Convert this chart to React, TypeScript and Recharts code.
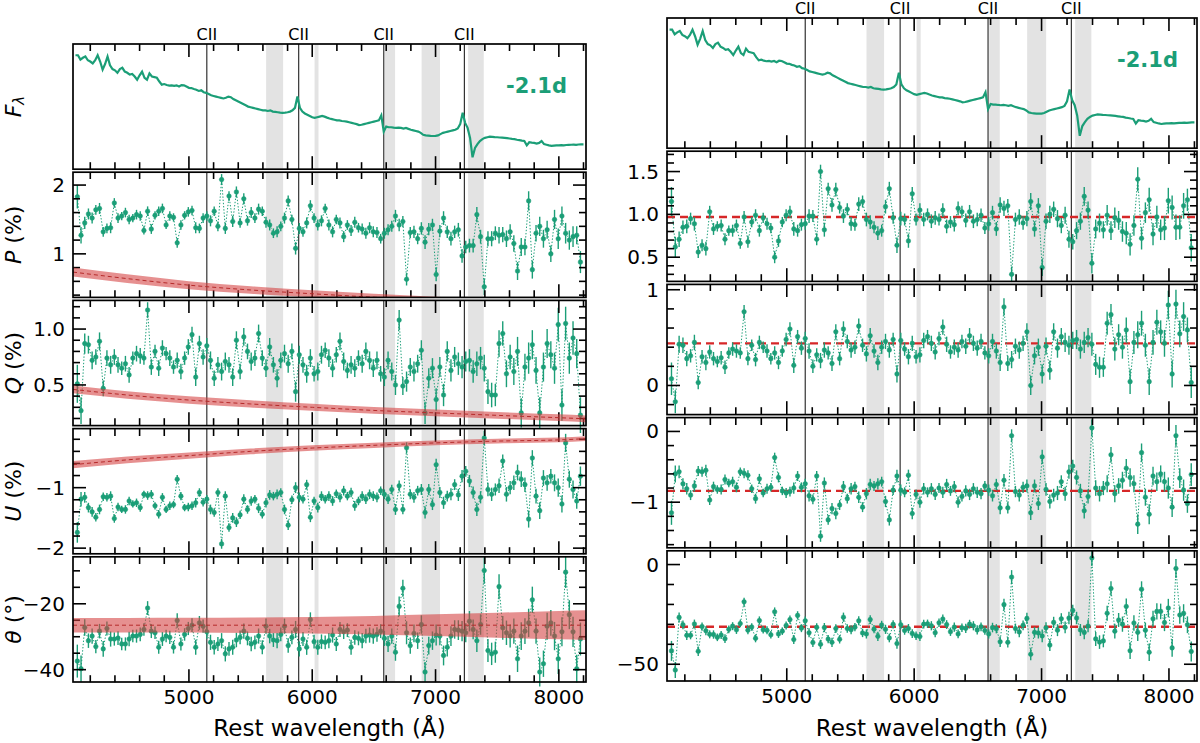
import React from "react";
import {
  ComposedChart,
  Line,
  Area,
  XAxis,
  YAxis,
  ReferenceLine,
  ReferenceArea,
  ErrorBar,
} from "recharts";

const GREEN = "#1b9e77";
const FONT = "'DejaVu Sans', sans-serif";

// ---- binned spectropolarimetry (30 A bins) ----
const BIN_START = 4095;
const BIN_WIDTH = 30;

// observed, not corrected for ISP
const pObs = [
  1.83, 1.27, 1.45, 1.58, 1.52, 1.64, 1.66, 1.32, 1.37, 1.38,
  1.74, 1.52, 1.55, 1.6, 1.5, 1.52, 1.57, 1.55, 1.34, 1.62,
  1.36, 1.56, 1.62, 1.66, 1.42, 1.55, 1.53, 1.16, 1.42, 1.56,
  1.61, 1.63, 1.38, 1.37, 1.52, 1.55, 1.48, 1.62, 1.4, 2.08,
  1.37, 1.84, 1.47, 1.9, 1.45, 1.8, 1.48, 1.6, 1.52, 1.65,
  1.62, 1.46, 1.42, 1.3, 1.32, 1.4, 1.52, 1.77, 1.5, 1.08,
  1.37, 1.32, 1.45, 1.7, 1.52, 1.42, 1.48, 1.66, 1.42, 1.32,
  1.5, 1.45, 1.25, 1.42, 1.34, 1.46, 1.38, 1.36, 1.3, 1.38,
  1.32, 1.31, 1.22, 1.3, 1.35, 1.4, 1.55, 1.42, 1.47, 0.63,
  1.31, 1.32, 1.22, 1.37, 1.17, 1.36, 1.42, 0.7, 1.33, 1.52,
  1.32, 1.22, 1.32, 1.35, 0.97, 1.1, 1.12, 1.12, 1.57, 1.25,
  0.52, 1.22, 1.22, 1.3, 1.27, 1.28, 1.22, 1.32, 1.15, 0.75,
  1.1, 1.1, 1.77, 0.77, 1.3, 1.4, 1.22, 1.35, 1.0, 1.5,
  1.22, 1.55, 1.3, 1.2, 1.25, 1.27, 0.88,
];
const qObs = [
  0.51, 0.27, 0.87, 0.86, 0.72, 0.75, 0.89, 0.47, 0.74, 0.68,
  0.75, 0.68, 0.65, 0.69, 0.59, 0.74, 0.78, 0.76, 0.74, 1.17,
  0.66, 0.8, 0.65, 0.83, 0.78, 0.74, 0.66, 0.72, 0.62, 0.74,
  0.84, 0.95, 0.57, 0.87, 0.75, 0.85, 0.72, 0.56, 0.68, 0.62,
  0.71, 0.68, 0.57, 0.9, 0.62, 0.93, 0.8, 0.71, 0.74, 0.96,
  0.74, 0.65, 0.84, 0.68, 0.56, 0.72, 0.78, 0.69, 0.8, 0.44,
  0.77, 0.68, 0.6, 0.74, 0.6, 0.62, 0.77, 0.81, 0.74, 0.65,
  0.77, 0.89, 0.71, 0.63, 0.68, 0.65, 0.74, 0.69, 0.8, 0.72,
  0.65, 0.72, 0.6, 0.57, 0.72, 0.62, 0.5, 1.08, 0.49, 0.53,
  0.66, 0.62, 0.69, 0.81, 0.25, 0.56, 0.65, 0.37, 0.66, 0.41,
  0.8, 0.63, 0.75, 0.69, 0.66, 0.71, 0.72, 0.62, 0.69, 0.74,
  0.65, 0.44, 0.41, 0.41, 0.87, 0.96, 0.6, 0.75, 0.62, 0.8,
  0.25, 0.66, 0.74, 0.86, 0.63, 0.25, 0.66, 0.87, 0.77, 0.65,
  1.04, 0.32, 1.05, 0.74, 0.92, 0.78, 0.23,
];
const uObs = [
  -1.74, -1.19, -1.16, -1.33, -1.4, -1.49, -1.36, -1.15, -1.16, -1.14,
  -1.51, -1.32, -1.36, -1.36, -1.22, -1.27, -1.25, -1.33, -1.11, -1.13,
  -1.11, -1.3, -1.44, -1.16, -1.36, -1.3, -1.28, -0.86, -1.14, -1.33,
  -1.32, -1.3, -1.25, -1.08, -1.24, -1.19, -1.36, -1.41, -1.08, -1.93,
  -1.14, -1.66, -1.5, -1.57, -1.45, -1.19, -1.36, -1.22, -1.19, -1.34,
  -1.44, -1.25, -1.12, -1.14, -1.11, -1.08, -1.36, -1.62, -1.2, -1.0,
  -1.16, -1.19, -0.95, -1.49, -1.22, -1.33, -1.14, -1.19, -1.14, -1.22,
  -1.1, -1.16, -1.05, -1.14, -1.08, -1.3, -1.22, -1.14, -1.19, -1.11,
  -1.14, -1.16, -1.05, -1.11, -1.19, -1.03, -1.36, -0.97, -1.36, -0.34,
  -1.11, -1.16, -1.05, -1.03, -1.41, -1.03, -1.28, -0.62, -1.08, -1.25,
  -1.14, -1.11, -0.95, -1.12, -0.81, -0.73, -0.89, -1.08, -1.36, -1.16,
  -0.18, -1.03, -1.11, -1.03, -0.97, -0.56, -1.11, -1.0, -0.92, -0.75,
  -0.86, -0.95, -1.52, -0.51, -1.14, -1.38, -0.84, -0.92, -0.81, -0.92,
  -1.0, -1.27, -0.26, -0.86, -1.03, -1.22, -0.81,
];
const thetaObs = [
  -37.4, -39.7, -27.2, -31.2, -29.8, -33.0, -28.3, -33.7, -27.5, -30.7,
  -30.7, -30.4, -32.2, -32.2, -30.7, -29.8, -29.8, -29.3, -27.8, -21.3,
  -28.3, -28.8, -33.2, -30.7, -29.8, -30.2, -33.2, -25.1, -32.2, -29.3,
  -27.5, -26.5, -33.2, -25.8, -26.8, -28.5, -31.7, -33.2, -32.2, -31.2,
  -35.2, -33.7, -33.2, -31.0, -30.2, -28.3, -30.5, -32.2, -31.7, -29.8,
  -33.2, -26.8, -29.8, -31.0, -31.2, -29.3, -26.8, -32.7, -30.2, -27.8,
  -33.7, -30.7, -33.2, -24.8, -31.5, -33.2, -31.5, -31.7, -31.2, -29.5,
  -32.2, -27.8, -28.5, -28.0, -33.2, -30.2, -30.5, -31.2, -29.8, -29.5,
  -29.8, -29.3, -28.3, -30.5, -32.2, -29.8, -34.7, -20.8, -15.3, -28.8,
  -32.7, -29.0, -31.2, -26.3, -40.7, -32.7, -31.2, -29.5, -29.8, -35.7,
  -33.2, -29.8, -27.8, -28.0, -28.3, -28.8, -25.3, -27.8, -31.2, -26.3,
  -9.9, -34.2, -35.2, -34.7, -14.8, -27.3, -28.8, -29.8, -28.3, -36.7,
  -29.8, -28.3, -25.8, -18.8, -28.3, -40.7, -38.2, -26.8, -25.8, -29.8,
  -36.7, -28.5, -10.4, -23.3, -28.5, -39.7, -30.7,
];

// ISP-subtracted
const pCor = [
  1.15, 0.62, 0.71, 0.85, 0.86, 0.95, 0.89, 0.56, 0.64, 0.6,
  1.03, 0.83, 0.86, 0.87, 0.71, 0.81, 0.81, 0.87, 0.66, 0.97,
  0.68, 0.91, 0.99, 0.81, 0.96, 0.89, 0.84, 0.5, 0.69, 0.91,
  0.99, 1.03, 0.83, 0.81, 0.88, 0.89, 0.98, 0.98, 0.71, 1.5,
  0.82, 1.3, 1.11, 1.29, 1.08, 0.98, 1.06, 0.89, 0.88, 1.12,
  1.15, 0.94, 0.91, 0.85, 0.78, 0.81, 1.09, 1.3, 0.96, 0.64,
  0.95, 0.94, 0.69, 1.24, 0.94, 1.05, 0.94, 1.0, 0.92, 0.96,
  0.94, 1.05, 0.86, 0.91, 0.88, 1.07, 1.03, 0.93, 1.03, 0.92,
  0.94, 0.99, 0.84, 0.89, 1.02, 0.83, 1.11, 1.07, 1.1, 0.3,
  0.94, 0.97, 0.9, 0.95, 1.15, 0.83, 1.1, 0.38, 0.92, 1.0,
  1.06, 0.95, 0.87, 0.99, 0.71, 0.68, 0.81, 0.92, 1.21, 1.05,
  0.43, 0.83, 0.9, 0.82, 0.99, 0.81, 0.96, 0.93, 0.8, 0.78,
  0.65, 0.87, 1.41, 0.72, 1.02, 1.17, 0.77, 0.97, 0.82, 0.84,
  1.16, 1.08, 0.85, 0.85, 1.1, 1.17, 0.61,
];
const qCor = [
  0.07, -0.17, 0.43, 0.42, 0.28, 0.31, 0.45, 0.03, 0.3, 0.24,
  0.35, 0.28, 0.25, 0.29, 0.19, 0.34, 0.38, 0.36, 0.34, 0.77,
  0.28, 0.42, 0.27, 0.45, 0.4, 0.36, 0.28, 0.34, 0.24, 0.36,
  0.48, 0.59, 0.21, 0.51, 0.39, 0.49, 0.36, 0.2, 0.32, 0.26,
  0.37, 0.34, 0.23, 0.56, 0.28, 0.59, 0.46, 0.37, 0.4, 0.62,
  0.42, 0.33, 0.52, 0.36, 0.24, 0.4, 0.46, 0.37, 0.48, 0.12,
  0.47, 0.38, 0.3, 0.44, 0.3, 0.32, 0.47, 0.51, 0.44, 0.35,
  0.49, 0.61, 0.43, 0.35, 0.4, 0.37, 0.46, 0.41, 0.52, 0.44,
  0.39, 0.46, 0.34, 0.31, 0.46, 0.36, 0.24, 0.82, 0.23, 0.27,
  0.41, 0.37, 0.44, 0.56, 0.0, 0.31, 0.4, 0.12, 0.41, 0.16,
  0.56, 0.39, 0.51, 0.45, 0.42, 0.47, 0.48, 0.38, 0.45, 0.5,
  0.43, 0.22, 0.19, 0.19, 0.65, 0.74, 0.38, 0.53, 0.4, 0.58,
  0.04, 0.45, 0.53, 0.65, 0.42, 0.04, 0.45, 0.66, 0.56, 0.44,
  0.84, 0.12, 0.85, 0.54, 0.72, 0.58, 0.03,
];
const uCor = [
  -1.15, -0.6, -0.57, -0.74, -0.81, -0.9, -0.77, -0.56, -0.57, -0.55,
  -0.97, -0.78, -0.82, -0.82, -0.68, -0.73, -0.71, -0.79, -0.57, -0.59,
  -0.62, -0.81, -0.95, -0.67, -0.87, -0.81, -0.79, -0.37, -0.65, -0.84,
  -0.87, -0.85, -0.8, -0.63, -0.79, -0.74, -0.91, -0.96, -0.63, -1.48,
  -0.73, -1.25, -1.09, -1.16, -1.04, -0.78, -0.95, -0.81, -0.78, -0.93,
  -1.07, -0.88, -0.75, -0.77, -0.74, -0.71, -0.99, -1.25, -0.83, -0.63,
  -0.83, -0.86, -0.62, -1.16, -0.89, -1.0, -0.81, -0.86, -0.81, -0.89,
  -0.8, -0.86, -0.75, -0.84, -0.78, -1.0, -0.92, -0.84, -0.89, -0.81,
  -0.86, -0.88, -0.77, -0.83, -0.91, -0.75, -1.08, -0.69, -1.08, -0.06,
  -0.85, -0.9, -0.79, -0.77, -1.15, -0.77, -1.02, -0.36, -0.82, -0.99,
  -0.9, -0.87, -0.71, -0.88, -0.57, -0.49, -0.65, -0.84, -1.12, -0.92,
  0.05, -0.8, -0.88, -0.8, -0.74, -0.33, -0.88, -0.77, -0.69, -0.52,
  -0.65, -0.74, -1.31, -0.3, -0.93, -1.17, -0.63, -0.71, -0.6, -0.71,
  -0.8, -1.07, -0.06, -0.66, -0.83, -1.02, -0.61,
];
const thetaCor = [
  -43.3, -52.9, -26.5, -30.2, -35.5, -35.5, -29.8, -43.5, -31.1, -33.2,
  -35.0, -35.1, -36.5, -35.3, -37.2, -32.5, -30.9, -32.7, -29.6, -18.7,
  -32.9, -31.3, -37.0, -28.1, -32.7, -33.0, -35.2, -23.7, -34.8, -33.4,
  -30.6, -27.6, -37.6, -25.5, -31.9, -28.2, -34.2, -39.1, -31.5, -40.0,
  -31.6, -37.4, -39.0, -32.1, -37.5, -26.4, -32.1, -32.7, -31.4, -28.2,
  -34.3, -34.8, -27.6, -32.4, -36.0, -30.3, -32.5, -36.8, -30.0, -39.6,
  -30.2, -33.1, -32.1, -34.6, -35.7, -36.1, -29.9, -29.7, -30.7, -34.2,
  -29.2, -27.3, -30.1, -33.7, -31.4, -34.8, -31.7, -32.0, -29.9, -30.7,
  -32.8, -31.2, -33.1, -34.8, -31.6, -32.2, -38.7, -20.1, -39.0, -6.3,
  -32.1, -33.8, -30.5, -27.0, -45.0, -34.0, -34.3, -35.8, -31.7, -40.4,
  -29.0, -32.9, -27.2, -31.5, -26.8, -23.0, -26.8, -32.8, -34.1, -30.8,
  3.3, -37.3, -38.9, -38.3, -24.4, -12.0, -33.4, -27.8, -29.9, -21.0,
  -43.2, -29.3, -34.0, -12.4, -32.9, -44.0, -27.2, -23.5, -23.5, -29.1,
  -21.8, -41.8, -2.0, -25.3, -24.5, -30.2, -43.6,
];

// 1-sigma uncertainties (percent, degrees)
const polErr = [
  0.17, 0.12, 0.09, 0.08, 0.08, 0.07, 0.08, 0.07, 0.07, 0.08,
  0.07, 0.07, 0.06, 0.07, 0.07, 0.06, 0.07, 0.07, 0.06, 0.07,
  0.07, 0.06, 0.07, 0.07, 0.06, 0.07, 0.06, 0.07, 0.07, 0.06,
  0.07, 0.07, 0.08, 0.07, 0.07, 0.07, 0.08, 0.07, 0.07, 0.08,
  0.08, 0.07, 0.08, 0.08, 0.07, 0.08, 0.07, 0.08, 0.07, 0.08,
  0.07, 0.08, 0.08, 0.07, 0.08, 0.07, 0.08, 0.08, 0.07, 0.09,
  0.08, 0.07, 0.08, 0.08, 0.07, 0.08, 0.08, 0.07, 0.08, 0.08,
  0.07, 0.08, 0.08, 0.07, 0.08, 0.08, 0.07, 0.08, 0.08, 0.08,
  0.08, 0.08, 0.07, 0.08, 0.08, 0.08, 0.09, 0.09, 0.08, 0.09,
  0.08, 0.09, 0.08, 0.09, 0.1, 0.09, 0.09, 0.1, 0.09, 0.1,
  0.09, 0.1, 0.09, 0.1, 0.1, 0.09, 0.1, 0.1, 0.11, 0.1,
  0.12, 0.11, 0.11, 0.1, 0.12, 0.11, 0.12, 0.11, 0.12, 0.13,
  0.13, 0.12, 0.14, 0.13, 0.12, 0.14, 0.13, 0.13, 0.12, 0.14,
  0.15, 0.14, 0.15, 0.14, 0.15, 0.13, 0.16,
];
const thetaErr = [
  5.0, 4.0, 2.5, 2.2, 2.3, 2.0, 2.2, 2.4, 2.1, 2.3,
  2.0, 2.1, 1.9, 2.0, 2.2, 1.9, 2.0, 2.1, 1.9, 2.1,
  2.1, 1.9, 2.0, 2.1, 1.9, 2.0, 1.9, 2.2, 2.0, 1.9,
  2.0, 2.1, 2.3, 2.1, 2.0, 2.1, 2.3, 2.2, 2.1, 2.3,
  2.3, 2.1, 2.3, 2.2, 2.1, 2.3, 2.1, 2.2, 2.1, 2.3,
  2.1, 2.3, 2.2, 2.1, 2.3, 2.1, 2.3, 2.2, 2.1, 2.6,
  2.3, 2.1, 2.3, 2.2, 2.1, 2.3, 2.2, 2.1, 2.3, 2.3,
  2.1, 2.3, 2.2, 2.1, 2.3, 2.2, 2.1, 2.3, 2.2, 2.3,
  2.3, 2.2, 2.1, 2.3, 2.4, 2.3, 2.6, 3.0, 2.6, 3.5,
  2.5, 2.7, 2.5, 2.8, 3.0, 2.7, 2.8, 3.2, 2.8, 3.0,
  2.8, 3.0, 2.8, 3.0, 3.1, 2.9, 3.1, 3.0, 3.4, 3.1,
  4.0, 3.5, 3.4, 3.2, 3.8, 3.6, 3.7, 3.5, 3.8, 4.0,
  4.2, 3.9, 4.3, 4.0, 3.8, 4.4, 4.0, 4.1, 3.9, 4.3,
  4.6, 4.4, 4.8, 4.4, 4.6, 4.2, 5.0,
];

const wavelengths = pObs.map((_, i) => BIN_START + BIN_WIDTH * i);

const polRows = wavelengths.map((wl, i) => ({
  wl,
  pObs: pObs[i],
  qObs: qObs[i],
  uObs: uObs[i],
  thObs: thetaObs[i],
  pCor: pCor[i],
  qCor: qCor[i],
  uCor: uCor[i],
  thCor: thetaCor[i],
  ePol: polErr[i],
  eTh: thetaErr[i],
}));

// ---- flux spectrum (arbitrary units, 20 A sampling) ----
const FLUX_START = 4080;
const FLUX_STEP = 20;
const flux = [
  0.91, 0.91, 0.875, 0.89, 0.9, 0.87, 0.86, 0.845, 0.87, 0.91,
  0.86, 0.795, 0.84, 0.9, 0.83, 0.8, 0.79, 0.77, 0.8, 0.81,
  0.78, 0.77, 0.755, 0.76, 0.74, 0.715, 0.75, 0.78, 0.73, 0.715,
  0.765, 0.74, 0.735, 0.73, 0.7, 0.675, 0.68, 0.672, 0.668, 0.67,
  0.665, 0.67, 0.66, 0.672, 0.67, 0.66, 0.65, 0.648, 0.64, 0.635,
  0.625, 0.63, 0.615, 0.61, 0.6, 0.59, 0.585, 0.58, 0.575, 0.57,
  0.565, 0.57, 0.58, 0.575, 0.56, 0.55, 0.54, 0.53, 0.52, 0.51,
  0.5, 0.495, 0.49, 0.485, 0.48, 0.475, 0.47, 0.47, 0.465, 0.47,
  0.46, 0.458, 0.455, 0.452, 0.45, 0.452, 0.455, 0.46, 0.47, 0.49,
  0.58, 0.49, 0.46, 0.445, 0.435, 0.425, 0.415, 0.41, 0.415, 0.42,
  0.425, 0.42, 0.412, 0.405, 0.4, 0.395, 0.39, 0.39, 0.385, 0.383,
  0.38, 0.375, 0.37, 0.365, 0.36, 0.352, 0.355, 0.36, 0.365, 0.37,
  0.375, 0.38, 0.385, 0.39, 0.43, 0.3, 0.34, 0.335, 0.335, 0.332,
  0.33, 0.332, 0.33, 0.325, 0.33, 0.322, 0.315, 0.31, 0.305, 0.3,
  0.29, 0.275, 0.27, 0.268, 0.266, 0.265, 0.266, 0.27, 0.28, 0.29,
  0.295, 0.3, 0.305, 0.31, 0.315, 0.325, 0.36, 0.45, 0.37, 0.33,
  0.25, 0.095, 0.17, 0.2, 0.225, 0.24, 0.25, 0.255, 0.26, 0.258,
  0.256, 0.255, 0.253, 0.252, 0.25, 0.248, 0.245, 0.242, 0.24, 0.235,
  0.232, 0.228, 0.225, 0.19, 0.215, 0.212, 0.21, 0.205, 0.21, 0.225,
  0.2, 0.195, 0.19, 0.186, 0.188, 0.19, 0.19, 0.192, 0.19, 0.193,
  0.194, 0.195, 0.196, 0.195, 0.197, 0.198, 0.198,
];
const fluxRows = flux.map((f, i) => ({ wl: FLUX_START + FLUX_STEP * i, flux: f }));

// ---- interstellar polarisation model (centre and half width of band) ----
const ispWl = [4060, 4500, 5000, 5500, 6000, 6500, 7000, 7500, 8000, 8220];
const ispP = [0.735, 0.64, 0.545, 0.475, 0.42, 0.37, 0.33, 0.3, 0.28, 0.27];
const ispPHalf = [0.065, 0.062, 0.058, 0.055, 0.052, 0.05, 0.048, 0.046, 0.045, 0.045];
const ispQ = [0.46, 0.41, 0.365, 0.33, 0.3, 0.272, 0.25, 0.228, 0.207, 0.197];
const ispQHalf = [0.035, 0.034, 0.033, 0.032, 0.031, 0.03, 0.03, 0.03, 0.03, 0.03];
const ispU = [-0.62, -0.54, -0.47, -0.4, -0.345, -0.3, -0.26, -0.23, -0.21, -0.19];
const ispUHalf = [0.06, 0.055, 0.05, 0.047, 0.045, 0.043, 0.04, 0.04, 0.04, 0.04];
const ispTheta = [-26.5, -26.5, -26.5, -26.5, -26.5, -26.5, -26.5, -26.5, -26.5, -26.5];
const ispThetaHalf = [2.2, 2.2, 2.25, 2.35, 2.5, 2.8, 3.3, 3.8, 4.3, 4.5];

const ispRows = ispWl.map((wl, i) => ({
  wl,
  p: ispP[i],
  pBand: [ispP[i] - ispPHalf[i], ispP[i] + ispPHalf[i]],
  q: ispQ[i],
  qBand: [ispQ[i] - ispQHalf[i], ispQ[i] + ispQHalf[i]],
  u: ispU[i],
  uBand: [ispU[i] - ispUHalf[i], ispU[i] + ispUHalf[i]],
  th: ispTheta[i],
  thBand: [ispTheta[i] - ispThetaHalf[i], ispTheta[i] + ispThetaHalf[i]],
}));

// mean ISP-subtracted values
const meanCor = { p: 0.97, q: 0.44, u: -0.84, th: -31.2 };

// line identifications and masked regions
const ciiLines = [5145, 5890, 6580, 7234];
const maskBands = [
  [5620, 5770],
  [6013, 6057],
  [6583, 6678],
  [6881, 7042],
  [7258, 7397],
];

const X_DOMAIN: [number, number] = [4060, 8220];
const X_MAJOR = [5000, 6000, 7000, 8000];
const X_TICKS = [
  4200, 4400, 4600, 4800, 5000, 5200, 5400, 5600, 5800, 6000, 6200, 6400, 6600,
  6800, 7000, 7200, 7400, 7600, 7800, 8000, 8200,
];

const minusSign = (s: string) => s.replace("-", "\u2212");
const fmtInt = (v: number) => minusSign(String(v));
const fmtOne = (v: number) => minusSign(v.toFixed(1));

type Spec = {
  key: string;
  domain: [number, number];
  majors: number[];
  minors: number[];
  fmt: (v: number) => string;
  err?: string;
  band?: string;
  mid?: string;
  ref?: number;
};

const leftSpecs: Spec[] = [
  { key: "flux", domain: [0, 1], majors: [], minors: [], fmt: fmtInt },
  {
    key: "pObs", domain: [0.37, 2.19], majors: [1, 2],
    minors: [0.4, 0.6, 0.8, 1.2, 1.4, 1.6, 1.8], fmt: fmtInt,
    err: "ePol", band: "pBand", mid: "p",
  },
  {
    key: "qObs", domain: [0.14, 1.26], majors: [0.5, 1.0],
    minors: [0.2, 0.3, 0.4, 0.6, 0.7, 0.8, 0.9, 1.1, 1.2], fmt: fmtOne,
    err: "ePol", band: "qBand", mid: "q",
  },
  {
    key: "uObs", domain: [-2.1, -0.03], majors: [-2, -1],
    minors: [-1.8, -1.6, -1.4, -1.2, -0.8, -0.6, -0.4, -0.2], fmt: fmtInt,
    err: "ePol", band: "uBand", mid: "u",
  },
  {
    key: "thObs", domain: [-43.8, -5.8], majors: [-40, -20],
    minors: [-35, -30, -25, -15, -10], fmt: fmtInt,
    err: "eTh", band: "thBand", mid: "th",
  },
];

const rightSpecs: Spec[] = [
  { key: "flux", domain: [0, 1], majors: [], minors: [], fmt: fmtInt },
  {
    key: "pCor", domain: [0.22, 1.74], majors: [0.5, 1.0, 1.5],
    minors: [0.3, 0.4, 0.6, 0.7, 0.8, 0.9, 1.1, 1.2, 1.3, 1.4, 1.6, 1.7], fmt: fmtOne,
    err: "ePol", ref: meanCor.p,
  },
  {
    key: "qCor", domain: [-0.3, 1.06], majors: [0, 1],
    minors: [-0.2, 0.2, 0.4, 0.6, 0.8], fmt: fmtInt,
    err: "ePol", ref: meanCor.q,
  },
  {
    key: "uCor", domain: [-1.65, 0.19], majors: [-1, 0],
    minors: [-1.6, -1.4, -1.2, -0.8, -0.6, -0.4, -0.2], fmt: fmtInt,
    err: "ePol", ref: meanCor.u,
  },
  {
    key: "thCor", domain: [-58.5, 6.8], majors: [-50, 0],
    minors: [-40, -30, -20, -10], fmt: fmtInt,
    err: "eTh", ref: meanCor.th,
  },
];

type Col = { left: number; width: number; plotLeft: number; plotRight: number; top: number; panelH: number };
const GAP = 3;
const LEFT_COL: Col = { left: 0, width: 600, plotLeft: 73, plotRight: 586, top: 44, panelH: 125.2 };
const RIGHT_COL: Col = { left: 600, width: 600, plotLeft: 67, plotRight: 597, top: 18, panelH: 130.2 };

const panelTop = (col: Col, i: number) => col.top + i * (col.panelH + GAP);

function xTick(plotTop: number, plotBottom: number, withLabels: boolean) {
  return (props: any) => {
    const { x, payload } = props;
    const major = X_MAJOR.includes(payload.value);
    const len = major ? 13 : 7;
    return (
      <g>
        <line x1={x} x2={x} y1={plotBottom} y2={plotBottom - len} stroke="#000" strokeWidth={1.6} />
        <line x1={x} x2={x} y1={plotTop} y2={plotTop + len} stroke="#000" strokeWidth={1.6} />
        {withLabels && major ? (
          <text x={x} y={plotBottom + 15} textAnchor="middle" dominantBaseline="central"
            fontSize={20} fontFamily={FONT} fill="#000">
            {payload.value}
          </text>
        ) : null}
      </g>
    );
  };
}

function yTick(plotLeft: number, plotRight: number, spec: Spec) {
  return (props: any) => {
    const { y, payload } = props;
    const v = payload.value;
    const major = spec.majors.some((m) => Math.abs(m - v) < 1e-6);
    const len = major ? 13 : 7;
    return (
      <g>
        <line x1={plotLeft} x2={plotLeft + len} y1={y} y2={y} stroke="#000" strokeWidth={1.6} />
        <line x1={plotRight} x2={plotRight - len} y1={y} y2={y} stroke="#000" strokeWidth={1.6} />
        {major ? (
          <text x={plotLeft - 8} y={y} textAnchor="end" dominantBaseline="central"
            fontSize={20} fontFamily={FONT} fill="#000">
            {spec.fmt(v)}
          </text>
        ) : null}
      </g>
    );
  };
}

function Panel({ col, index, spec, last }: { col: Col; index: number; spec: Spec; last: boolean }) {
  const top = panelTop(col, index);
  // room above/below the plot so edge tick labels are not clipped
  const extraTop = index === 0 ? Math.min(top, 30) : 12;
  const xh = last ? 61 : 12;
  const height = extraTop + col.panelH + xh;
  const isFlux = spec.key === "flux";
  const yTicks = [...spec.majors, ...spec.minors].sort((a, b) => a - b);
  const margin = { top: extraTop, right: col.width - col.plotRight, bottom: 0, left: 0 };

  const axes = (withTicks: boolean) => [
    <XAxis key="x" dataKey="wl" type="number" domain={X_DOMAIN} allowDataOverflow
      ticks={X_TICKS} interval={0} tickLine={false} axisLine={false} height={xh}
      tick={withTicks ? xTick(extraTop, extraTop + col.panelH, last) : false} />,
    <YAxis key="y" type="number" domain={spec.domain} allowDataOverflow width={col.plotLeft}
      ticks={yTicks.length ? yTicks : undefined} interval={0} tickLine={false} axisLine={false}
      tick={withTicks && yTicks.length ? yTick(col.plotLeft, col.plotRight, spec) : false} />,
  ];

  return (
    <div style={{ position: "absolute", left: col.left, top: top - extraTop }}>
      <ComposedChart width={col.width} height={height} data={isFlux ? fluxRows : polRows} margin={margin}>
        {axes(true)}
        {maskBands.map(([a, b]) => (
          <ReferenceArea key={`m${a}`} x1={a} x2={b} fill="#e3e3e3" fillOpacity={1}
            stroke="#fff" strokeWidth={1.5} />
        ))}
        {ciiLines.map((wl) => (
          <ReferenceLine key={`c${wl}`} x={wl} stroke="#333" strokeWidth={1.2}
            label={index === 0 ? { value: "CII", position: "top", fill: "#000", fontSize: 16, fontFamily: FONT, offset: 4 } : undefined} />
        ))}
        {spec.ref !== undefined ? (
          <ReferenceLine y={spec.ref} stroke="#d62728" strokeWidth={2.4} strokeDasharray="8 5" />
        ) : null}
        {isFlux ? (
          <Line dataKey="flux" type="linear" stroke={GREEN} strokeWidth={2.2} dot={false}
            activeDot={false} isAnimationActive={false} />
        ) : (
          <Line dataKey={spec.key} type="linear" stroke={GREEN} strokeWidth={1}
            strokeDasharray="1.4 1.8" dot={{ r: 2.3, fill: GREEN, stroke: GREEN, strokeWidth: 0.5, strokeDasharray: "" }}
            activeDot={false} isAnimationActive={false}>
            <ErrorBar dataKey={spec.err!} width={0} stroke={GREEN} strokeWidth={1.4} direction="y" />
          </Line>
        )}
      </ComposedChart>
      {spec.band ? (
        <div style={{ position: "absolute", left: 0, top: 0 }}>
          <ComposedChart width={col.width} height={height} data={ispRows} margin={margin}>
            {axes(false)}
            <Area dataKey={spec.band} type="monotone" stroke="none" fill="#d43f3f"
              fillOpacity={0.58} isAnimationActive={false} />
            <Line dataKey={spec.mid!} type="monotone" stroke="#b52a2a" strokeWidth={1}
              strokeDasharray="4 3" dot={false} activeDot={false} isAnimationActive={false} />
          </ComposedChart>
        </div>
      ) : null}
    </div>
  );
}

const yTitles = [
  <>
    <tspan fontStyle="italic">F</tspan>
    <tspan fontStyle="italic" fontSize={15} dy={6}>λ</tspan>
  </>,
  <>
    <tspan fontStyle="italic">P</tspan> (%)
  </>,
  <>
    <tspan fontStyle="italic">Q</tspan> (%)
  </>,
  <>
    <tspan fontStyle="italic">U</tspan> (%)
  </>,
  <>
    <tspan fontStyle="italic">θ</tspan> (°)
  </>,
];

function Overlay() {
  const cols = [LEFT_COL, RIGHT_COL];
  return (
    <svg width={1200} height={743} style={{ position: "absolute", left: 0, top: 0, pointerEvents: "none" }}>
      {cols.map((col, c) =>
        [0, 1, 2, 3, 4].map((i) => (
          <rect key={`f${c}${i}`} x={col.left + col.plotLeft} y={panelTop(col, i)}
            width={col.plotRight - col.plotLeft} height={col.panelH}
            fill="none" stroke="#000" strokeWidth={1.7} />
        ))
      )}
      {cols.map((col, c) => (
        <text key={`d${c}`} x={col.left + col.plotRight - 19} y={panelTop(col, 0) + 42}
          textAnchor="end" dominantBaseline="central" fontSize={21} fontWeight="bold"
          fontFamily={FONT} fill={GREEN}>
          -2.1d
        </text>
      ))}
      {cols.map((col, c) => (
        <text key={`x${c}`} x={col.left + (col.plotLeft + col.plotRight) / 2} y={728}
          textAnchor="middle" dominantBaseline="central" fontSize={23} fontFamily={FONT} fill="#000">
          Rest wavelength (Å)
        </text>
      ))}
      {yTitles.map((t, i) => (
        <text key={`y${i}`} transform={`translate(13, ${panelTop(LEFT_COL, i) + LEFT_COL.panelH / 2}) rotate(-90)`}
          textAnchor="middle" dominantBaseline="central" fontSize={22} fontFamily={FONT} fill="#000">
          {t}
        </text>
      ))}
    </svg>
  );
}

export default function App() {
  return (
    <div style={{ position: "absolute", left: 0, top: 0, width: 1200, height: 743, background: "#fff", overflow: "hidden" }}>
      {leftSpecs.map((s, i) => (
        <Panel key={`l${i}`} col={LEFT_COL} index={i} spec={s} last={i === leftSpecs.length - 1} />
      ))}
      {rightSpecs.map((s, i) => (
        <Panel key={`r${i}`} col={RIGHT_COL} index={i} spec={s} last={i === rightSpecs.length - 1} />
      ))}
      <Overlay />
    </div>
  );
}
